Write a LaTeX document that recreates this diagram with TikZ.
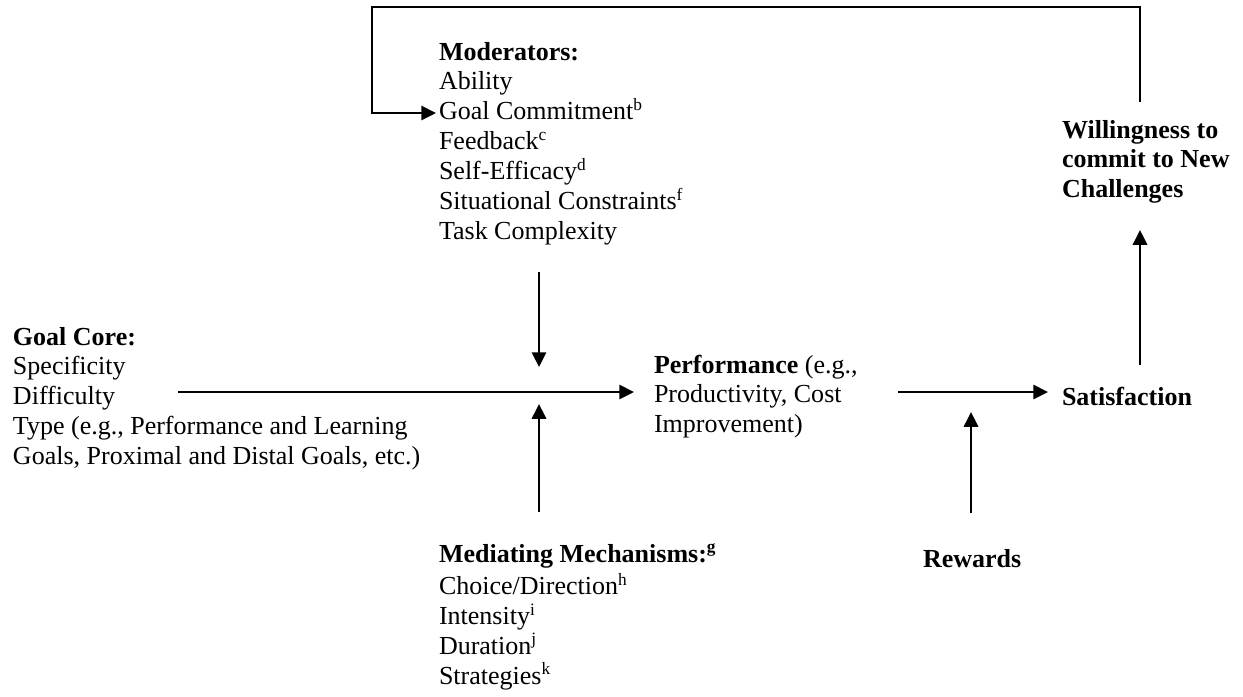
\documentclass[tikz,border=0pt]{standalone}
\usepackage{fontspec}
\setmainfont{Liberation Serif}
\usetikzlibrary{arrows.meta}
\begin{document}
\begin{tikzpicture}[x=0.4615pt,y=-0.4615pt,
  txt/.style={anchor=north west,inner sep=0pt,outer sep=0pt,align=left,font=\fontsize{12}{13.8}\selectfont,yshift=9.66pt},
  btxt/.style={txt,font=\fontsize{12}{13.8}\selectfont\bfseries},
  arr/.style={line width=0.9pt,-{Triangle[length=6.8pt,width=6.6pt]}}]
\useasboundingbox (0,0) rectangle (1243,696);
% text blocks
\node[txt] (mod) at (439,60) {\strut\textbf{Moderators:}\\Ability\\Goal Commitment\textsuperscript{b}\\Feedback\textsuperscript{c}\\Self-Efficacy\textsuperscript{d}\\Situational Constraints\textsuperscript{f}\\Task Complexity};
\node[btxt] (will) at (1062,138) {\strut Willingness to\\commit to New\\Challenges};
\node[txt] (core) at (13,345) {\strut\textbf{Goal Core:}\\Specificity\\Difficulty\\Type (e.g., Performance and Learning\\Goals, Proximal and Distal Goals, etc.)};
\node[txt] (perf) at (654,373) {\strut\textbf{Performance} (e.g.,\\Productivity, Cost\\Improvement)};
\node[btxt] (sat) at (1062,405) {\strut Satisfaction};
\node[txt] (med) at (439,562) {\strut\textbf{Mediating Mechanisms:\textsuperscript{g}}\\Choice/Direction\textsuperscript{h}\\Intensity\textsuperscript{i}\\Duration\textsuperscript{j}\\Strategies\textsuperscript{k}};
\node[btxt] (rew) at (923,567) {\strut Rewards};
% connector end points
\coordinate (coreOut) at (178,392);
\coordinate (perfIn) at (634,392);
\coordinate (modOut) at (539,272);
\coordinate (modIn) at (539,367);
\coordinate (medOut) at (539,512);
\coordinate (medIn) at (539,404);
\coordinate (perfOut) at (898,392);
\coordinate (satIn) at (1048,392);
\coordinate (rewOut) at (971,513);
\coordinate (rewIn) at (971,412);
\coordinate (satOut) at (1140,365);
\coordinate (willIn) at (1140,230);
\coordinate (willOut) at (1140,102);
\coordinate (loopTop) at (372,7);
\coordinate (goalCommit) at (436,113);
% connectors
\draw[arr] (coreOut) -- (perfIn);
\draw[arr] (modOut) -- (modIn);
\draw[arr] (medOut) -- (medIn);
\draw[arr] (perfOut) -- (satIn);
\draw[arr] (rewOut) -- (rewIn);
\draw[arr] (satOut) -- (willIn);
\draw[arr] (willOut) |- (loopTop) |- (goalCommit);
\end{tikzpicture}
\end{document}
